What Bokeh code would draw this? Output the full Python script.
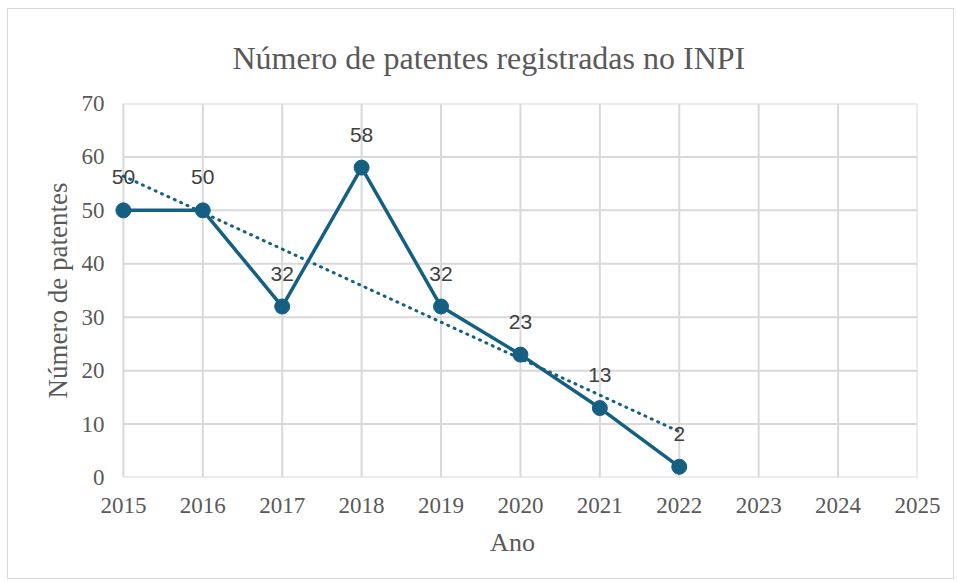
import numpy as np
from bokeh.plotting import figure
from bokeh.models import ColumnDataSource, FixedTicker, Range1d
from bokeh.core.properties import value
from bokeh.embed import file_html
from bokeh.resources import INLINE

years = [2015, 2016, 2017, 2018, 2019, 2020, 2021, 2022]
patentes = [50, 50, 32, 58, 32, 23, 13, 2]
labels = [str(v) for v in patentes]
x_ticks = list(range(2015, 2026))
y_ticks = list(range(0, 71, 10))

coef = np.polyfit(years, patentes, 1)
trend_x = [years[0], years[-1]]
trend_y = [float(np.polyval(coef, xx)) for xx in trend_x]

COLOR = "#156082"
SERIF = "Liberation Serif"
W, H = 947, 571

p = figure(width=W, height=H, output_backend="svg", toolbar_location=None,
           x_range=Range1d(x_ticks[0] - 0.2, x_ticks[-1]), y_range=Range1d(y_ticks[0], y_ticks[-1]),
           min_border_left=99, min_border_right=38, min_border_top=93, min_border_bottom=103)
p.margin = (8, 0, 0, 7)
p.styles = {"border": "1px solid #d9d9d9", "box-sizing": "border-box"}

p.title.text = "Número de patentes registradas no INPI"
p.title.align = "left"
p.title.offset = 125
p.title.standoff = 56
p.title.text_font = SERIF
p.title.text_font_size = "32px"
p.title.text_font_style = "normal"
p.title.text_color = "#595959"

p.outline_line_color = None
p.background_fill_color = "white"
p.xgrid.visible = False
p.ygrid.visible = False

for ax in (p.xaxis, p.yaxis):
    ax.axis_line_color = None
    ax.major_tick_line_color = None
    ax.minor_tick_line_color = None
    ax.major_tick_out = 0
    ax.major_tick_in = 0
    ax.minor_tick_out = 0
    ax.major_label_text_font = SERIF
    ax.major_label_text_font_size = "23px"
    ax.major_label_text_color = "#595959"
    ax.axis_label_text_font = SERIF
    ax.axis_label_text_font_size = "26px"
    ax.axis_label_text_font_style = "normal"
    ax.axis_label_text_color = "#595959"

p.yaxis.axis_label_text_font_size = "27px"
p.xaxis.ticker = FixedTicker(ticks=x_ticks)
p.yaxis.ticker = FixedTicker(ticks=y_ticks)
p.xaxis.axis_label = "Ano"
p.yaxis.axis_label = "Número de patentes"
p.xaxis.major_label_standoff = 20
p.yaxis.major_label_standoff = 3
p.xaxis.axis_label_standoff = 12
p.yaxis.axis_label_standoff = 6

# gridlines limited to the 2015-2025 / 0-70 area
p.segment(x0=x_ticks, y0=[y_ticks[0]] * len(x_ticks), x1=x_ticks, y1=[y_ticks[-1]] * len(x_ticks),
          line_color="#d9d9d9", line_width=2, level="underlay")
p.segment(x0=[x_ticks[0]] * len(y_ticks), y0=y_ticks, x1=[x_ticks[-1]] * len(y_ticks), y1=y_ticks,
          line_color="#d9d9d9", line_width=2, level="underlay")

src = ColumnDataSource(dict(x=years, y=patentes, lab=labels))

p.line(trend_x, trend_y, line_color=COLOR, line_width=3, line_dash="1 6", line_cap="round")
p.line("x", "y", source=src, line_color=COLOR, line_width=3.5)
p.scatter("x", "y", source=src, size=15, fill_color=COLOR, line_color=COLOR)
p.text("x", "y", text="lab", source=src, text_font=value("Liberation Sans"),
       text_font_size="21px", text_color="#404040", text_align="center",
       text_baseline="middle", y_offset=-33)

open("out.html", "w").write(file_html(p, INLINE))
